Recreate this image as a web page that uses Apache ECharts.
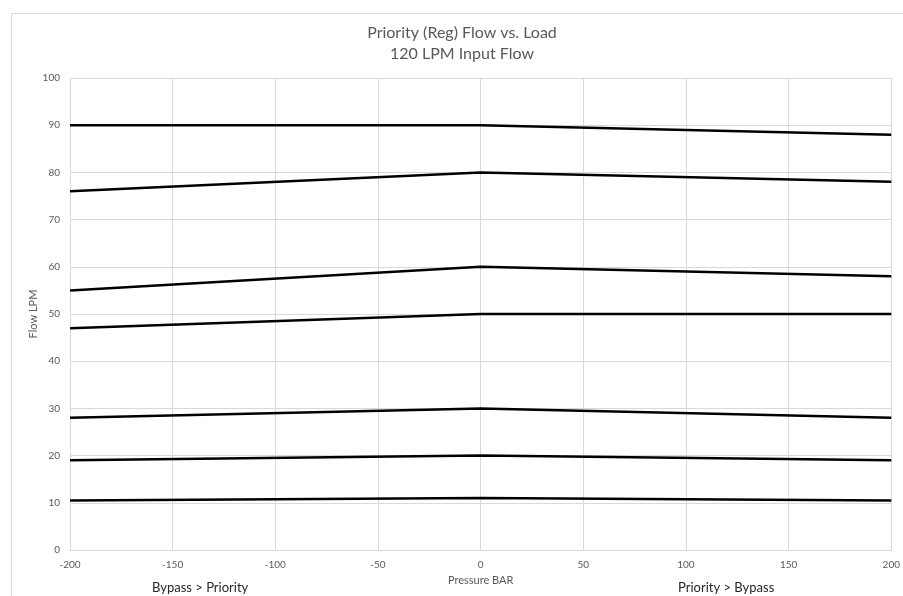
<!DOCTYPE html>
<html>
<head>
<meta charset="utf-8">
<script src="https://cdn.jsdelivr.net/npm/echarts@6/dist/echarts.min.js"></script>
<style>html,body{margin:0;padding:0;background:#fff;}#c{width:903px;height:596px;}</style>
</head>
<body>
<div id="c"></div>
<script>
const xPoints = [-200, 0, 200];
const line1 = [90, 90, 88];
const line2 = [76, 80, 78];
const line3 = [55, 60, 58];
const line4 = [47, 50, 50];
const line5 = [28, 30, 28];
const line6 = [19, 20, 19];
const line7 = [10.5, 11, 10.5];
const allLines = [line1, line2, line3, line4, line5, line6, line7];
const titleText = 'Priority (Reg) Flow vs. Load\n120 LPM Input Flow';
const leftNote = 'Bypass > Priority';
const rightNote = 'Priority > Bypass';

const font = 'Lato, "Open Sans", sans-serif';
const chart = echarts.init(document.getElementById('c'), null, {renderer: 'canvas'});
chart.setOption({
  animation: false,
  backgroundColor: '#fff',
  title: {
    text: titleText, left: 457, top: 17, textAlign: 'center',
    textStyle: {fontFamily: font, fontSize: 16, fontWeight: 'normal', color: '#595959', lineHeight: 21}
  },
  grid: {left: 70, right: 9, top: 78, bottom: 46},
  xAxis: {
    type: 'value', min: -200, max: 200, interval: 50,
    name: 'Pressure BAR', nameLocation: 'middle', nameGap: 21,
    nameTextStyle: {fontFamily: font, fontSize: 11, color: '#595959', verticalAlign: 'top'},
    axisLine: {show: true, lineStyle: {color: '#d9d9d9'}},
    axisTick: {show: false},
    axisLabel: {fontFamily: font, fontSize: 10, color: '#595959', margin: 10},
    splitLine: {show: true, lineStyle: {color: '#d9d9d9'}}
  },
  yAxis: {
    type: 'value', min: 0, max: 100, interval: 10,
    name: 'Flow LPM', nameLocation: 'middle', nameGap: 31, nameRotate: 90, nameMoveOverlap: false,
    nameTextStyle: {fontFamily: font, fontSize: 11, color: '#595959'},
    axisLine: {show: false},
    axisTick: {show: false},
    axisLabel: {fontFamily: font, fontSize: 10, color: '#595959', margin: 10},
    splitLine: {show: true, lineStyle: {color: '#d9d9d9'}}
  },
  graphic: [
    {type: 'rect', left: 9, top: 11, shape: {width: 1000, height: 1000}, style: {fill: 'none', stroke: '#d9d9d9', lineWidth: 1}, z: -1},
    {type: 'text', left: 152, top: 581, style: {text: leftNote, font: '13px ' + font, fill: '#262626'}},
    {type: 'text', left: 678, top: 581, style: {text: rightNote, font: '13px ' + font, fill: '#262626'}}
  ],
  series: allLines.map(arr => ({
    type: 'line',
    data: xPoints.map((x, i) => [x, arr[i]]),
    symbol: 'none',
    lineStyle: {color: '#000', width: 2.5},
    silent: true
  }))
});
</script>
</body>
</html>
